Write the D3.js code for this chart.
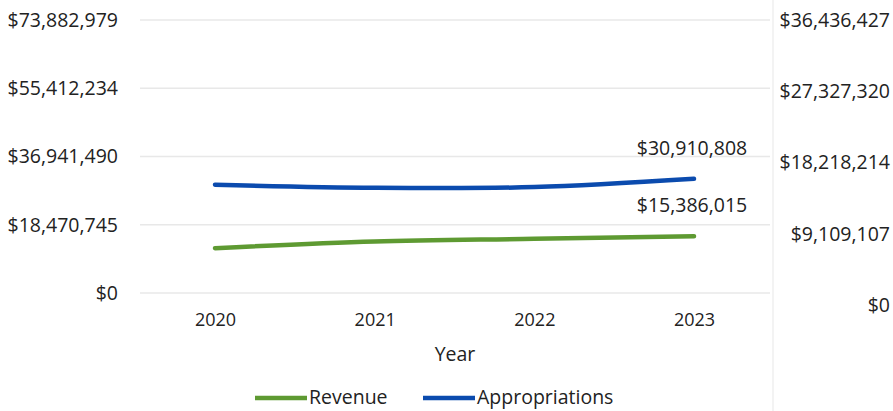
<!DOCTYPE html>
<html>
<head>
<meta charset="utf-8">
<script src="https://cdn.jsdelivr.net/npm/d3@7"></script>
<style>
  html, body { margin: 0; padding: 0; background: #ffffff; }
  svg { display: block; }
  text { font-family: "Open Sans", "Noto Sans", sans-serif; fill: #222; }
</style>
</head>
<body>
<svg id="chart" width="893" height="411"></svg>
<script>
// Fiscal years on the x axis
const years = ["2020", "2021", "2022", "2023"];

// Series values (dollars)
const revenue = [12140000, 13940000, 14660000, 15386015];
const appropriations = [29290000, 28470000, 28660000, 30910808];

// Axis tick values
const leftTicks = [0, 18470745, 36941490, 55412234, 73882979];
const rightTicks = [0, 9109107, 18218214, 27327320, 36436427];

const seriesNames = ["Revenue", "Appropriations"];
const seriesColors = ["#5e9a32", "#0b4bae"];

const svg = d3.select("#chart");
const fmt = d3.format("$,");
const labelSize = 19.5;

const plotLeft = 140, plotRight = 770;

const x = d3.scalePoint().domain(years).range([215, 694]);
const yLeft = d3.scaleLinear().domain([0, leftTicks[leftTicks.length - 1]]).range([293, 20]);
const yRight = d3.scaleLinear().domain([0, rightTicks[rightTicks.length - 1]]).range([305, 20]);

// Horizontal gridlines
svg.append("g")
  .selectAll("line")
  .data(leftTicks)
  .join("line")
  .attr("x1", plotLeft)
  .attr("x2", plotRight)
  .attr("y1", d => yLeft(d))
  .attr("y2", d => yLeft(d))
  .attr("stroke", "#e8e8e8")
  .attr("stroke-width", 1.5);

// Faint divider at the right edge of the plot
svg.append("line")
  .attr("x1", 773).attr("x2", 773)
  .attr("y1", 0).attr("y2", 411)
  .attr("stroke", "#f3f3f3")
  .attr("stroke-width", 2);

// Left value axis
const leftAxis = svg.append("g")
  .attr("transform", "translate(118,0)")
  .call(d3.axisLeft(yLeft).tickValues(leftTicks).tickFormat(fmt).tickSize(0).tickPadding(0));
leftAxis.select(".domain").remove();
leftAxis.selectAll("text")
  .attr("font-size", labelSize)
  .attr("font-family", "\"Open Sans\", sans-serif")
  .attr("fill", "#222");

// Right value axis
const rightAxis = svg.append("g")
  .attr("transform", "translate(890,0)")
  .call(d3.axisLeft(yRight).tickValues(rightTicks).tickFormat(fmt).tickSize(0).tickPadding(0));
rightAxis.select(".domain").remove();
rightAxis.selectAll("text")
  .attr("font-size", labelSize)
  .attr("font-family", "\"Open Sans\", sans-serif")
  .attr("fill", "#222");

// Category axis
const xAxis = svg.append("g")
  .attr("transform", "translate(0,307)")
  .call(d3.axisBottom(x).tickSize(0).tickPadding(6));
xAxis.select(".domain").remove();
xAxis.selectAll("text")
  .attr("font-size", 18)
  .attr("font-family", "\"Open Sans\", sans-serif")
  .attr("fill", "#222");

svg.append("text")
  .attr("x", 455)
  .attr("y", 361)
  .attr("text-anchor", "middle")
  .attr("font-size", labelSize)
  .text("Year");

// Series lines
const series = [revenue, appropriations];
const line = d3.line()
  .x((d, i) => x(years[i]))
  .y(d => yLeft(d))
  .curve(d3.curveCatmullRom.alpha(0.5));

svg.append("g")
  .selectAll("path")
  .data(series)
  .join("path")
  .attr("d", d => line(d))
  .attr("fill", "none")
  .attr("stroke", (d, i) => seriesColors[i])
  .attr("stroke-width", 4.5)
  .attr("stroke-linecap", "round");

// Value labels on the last point of each series
svg.append("g")
  .selectAll("text")
  .data(series)
  .join("text")
  .attr("x", x(years[years.length - 1]) - 2)
  .attr("y", d => yLeft(d[d.length - 1]) - 24)
  .attr("text-anchor", "middle")
  .attr("font-size", labelSize)
  .text(d => fmt(d[d.length - 1]));

// Legend
const legendX = [255, 423];
const legend = svg.append("g")
  .selectAll("g")
  .data(seriesNames)
  .join("g")
  .attr("transform", (d, i) => `translate(${legendX[i]},398)`);
legend.append("line")
  .attr("x1", 0).attr("x2", 52)
  .attr("y1", 0).attr("y2", 0)
  .attr("stroke", (d, i) => seriesColors[i])
  .attr("stroke-width", 4.5);
legend.append("text")
  .attr("x", 54)
  .attr("y", 6)
  .attr("font-size", labelSize)
  .text(d => d);
</script>
</body>
</html>
